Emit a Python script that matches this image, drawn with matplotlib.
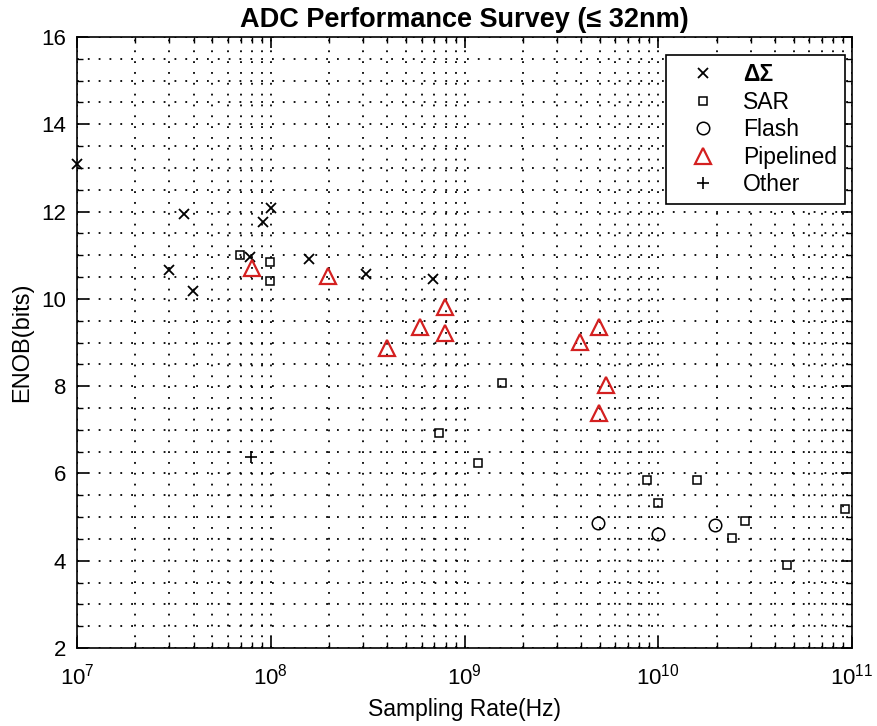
import numpy as np
import matplotlib
matplotlib.use('Agg')
import matplotlib.pyplot as plt
from matplotlib.ticker import MultipleLocator, LogLocator, NullFormatter

plt.rcParams['font.family'] = ['Liberation Sans', 'DejaVu Sans']
plt.rcParams['mathtext.default'] = 'regular'

# ADC survey data (sampling rate in Hz, ENOB in bits)
ds_fs = [1.0e7, 3.0e7, 3.56e7, 3.97e7, 7.8e7, 9.1e7, 1.0e8, 1.58e8, 3.1e8, 6.9e8]
ds_enob = [13.09, 10.66, 11.94, 10.18, 10.97, 11.77, 12.09, 10.91, 10.57, 10.46]

sar_fs = [6.9e7, 9.9e7, 9.9e7, 1.57e9, 7.4e8, 1.17e9, 8.7e9, 1.59e10, 1.0e10,
          2.8e10, 2.4e10, 4.6e10, 9.2e10]
sar_enob = [11.0, 10.85, 10.41, 8.07, 6.92, 6.24, 5.85, 5.85, 5.32,
            4.9, 4.52, 3.9, 5.18]

flash_fs = [4.9e9, 1.0e10, 1.97e10]
flash_enob = [4.86, 4.61, 4.82]

pipe_fs = [8.0e7, 1.98e8, 4.0e8, 5.9e8, 7.9e8, 7.9e8, 3.95e9, 4.97e9, 5.37e9, 4.97e9]
pipe_enob = [10.7, 10.52, 8.87, 9.36, 9.82, 9.21, 9.02, 9.36, 8.03, 7.39]

other_fs = [7.9e7]
other_enob = [6.38]

fig = plt.figure(figsize=(8.77, 7.26), dpi=100)
ax = fig.add_axes([77/877, 1-648/726, (852-77)/877, (648-37)/726])

ax.plot(ds_fs, ds_enob, 'x', color='black', ms=7, mew=1.3, label='ΔΣ', zorder=3, clip_on=False)
ax.plot(sar_fs, sar_enob, 's', color='black', mfc='none', ms=6, mew=1.1, label='SAR', zorder=3)
ax.plot(flash_fs, flash_enob, 'o', color='black', mfc='none', ms=9, mew=1.1, label='Flash', zorder=3)
ax.plot(pipe_fs, pipe_enob, '^', color='#d42020', mfc='none', ms=11, mew=1.6, label='Pipelined', zorder=3)
ax.plot(other_fs, other_enob, '+', color='black', ms=8, mew=1.2, label='Other', zorder=3)

ax.set_xscale('log')
ax.set_xlim(1e7, 1e11)
ax.set_ylim(2, 16)
ax.yaxis.set_major_locator(MultipleLocator(2))
ax.yaxis.set_minor_locator(MultipleLocator(0.5))
ax.xaxis.set_major_locator(LogLocator(base=10, numticks=10))
ax.xaxis.set_minor_locator(LogLocator(base=10, subs=np.arange(2, 10), numticks=20))
ax.xaxis.set_minor_formatter(NullFormatter())

ax.grid(True, which='both', color='black', linestyle=(0, (1, 5)), linewidth=1.3)
ax.set_axisbelow(True)
ax.tick_params(which='both', direction='in', top=True, right=True, labelsize=16)
ax.tick_params(which='major', length=8, width=1.2)
ax.tick_params(which='minor', length=4, width=1.0)
ax.tick_params(axis='x', which='major', pad=11)
ax.tick_params(axis='y', which='major', pad=8)
for s in ax.spines.values():
    s.set_linewidth(1.2)

ax.set_xlabel('Sampling Rate(Hz)', fontsize=16.5, labelpad=6)
ax.set_ylabel('ENOB(bits)', fontsize=17, labelpad=6)
ax.set_title('ADC Performance Survey (≤ 32nm)', fontsize=19.5, fontweight='bold', pad=7)

leg = ax.legend(loc='upper right', bbox_to_anchor=((845-77)/775, (648-55)/611),
                borderaxespad=0, fontsize=16.5, frameon=True, fancybox=False,
                edgecolor='black', framealpha=1, borderpad=0.35, labelspacing=0.2,
                handlelength=2.5, handletextpad=0.5)
leg.get_frame().set_linewidth(1.2)
leg.get_texts()[0].set_fontweight('bold')

plt.savefig('out.png', dpi=100)
